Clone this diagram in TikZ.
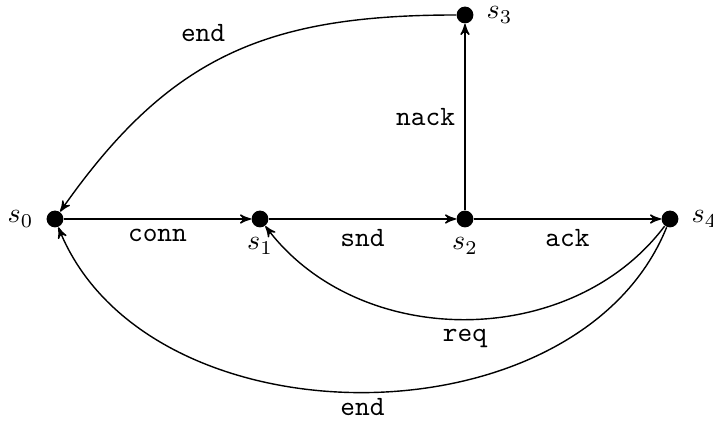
\documentclass[tikz,border=0pt]{standalone}
\usetikzlibrary{arrows}
\begin{document}
\begin{tikzpicture}[x=0.357pt,y=-0.357pt,
  dot/.style={circle,fill=black,inner sep=0pt,minimum size=6pt},
  edge/.style={->,>=stealth',line width=0.5pt},
  lbl/.style={font=\ttfamily}]
\useasboundingbox (0,0) rectangle (713,421);
\node[dot,label={[label distance=1pt]left:$s_0$}] (s0) at (55,219) {};
\node[dot,label={below:$s_1$}] (s1) at (260,219) {};
\node[dot,label={below:$s_2$}] (s2) at (465,219) {};
\node[dot,label={[label distance=1pt]right:$s_3$}] (s3) at (465,15) {};
\node[dot,label={[label distance=1pt]right:$s_4$}] (s4) at (670,219) {};
\draw[edge] (s0) -- node[lbl,below] {conn} (s1);
\draw[edge] (s1) -- node[lbl,below] {snd} (s2);
\draw[edge] (s2) -- node[lbl,below] {ack} (s4);
\draw[edge] (s2) -- node[lbl,left] {nack} (s3);
\draw[edge] (s3) to[out=180,in=55,looseness=1.1] node[lbl,above left,pos=0.48] {end} (s0);
\draw[edge] (s4) to[bend left=53] node[lbl,below] {req} (s1);
\draw[edge] (s4) to[bend left=68] node[lbl,below,inner sep=2pt] {end} (s0);
\end{tikzpicture}
\end{document}
